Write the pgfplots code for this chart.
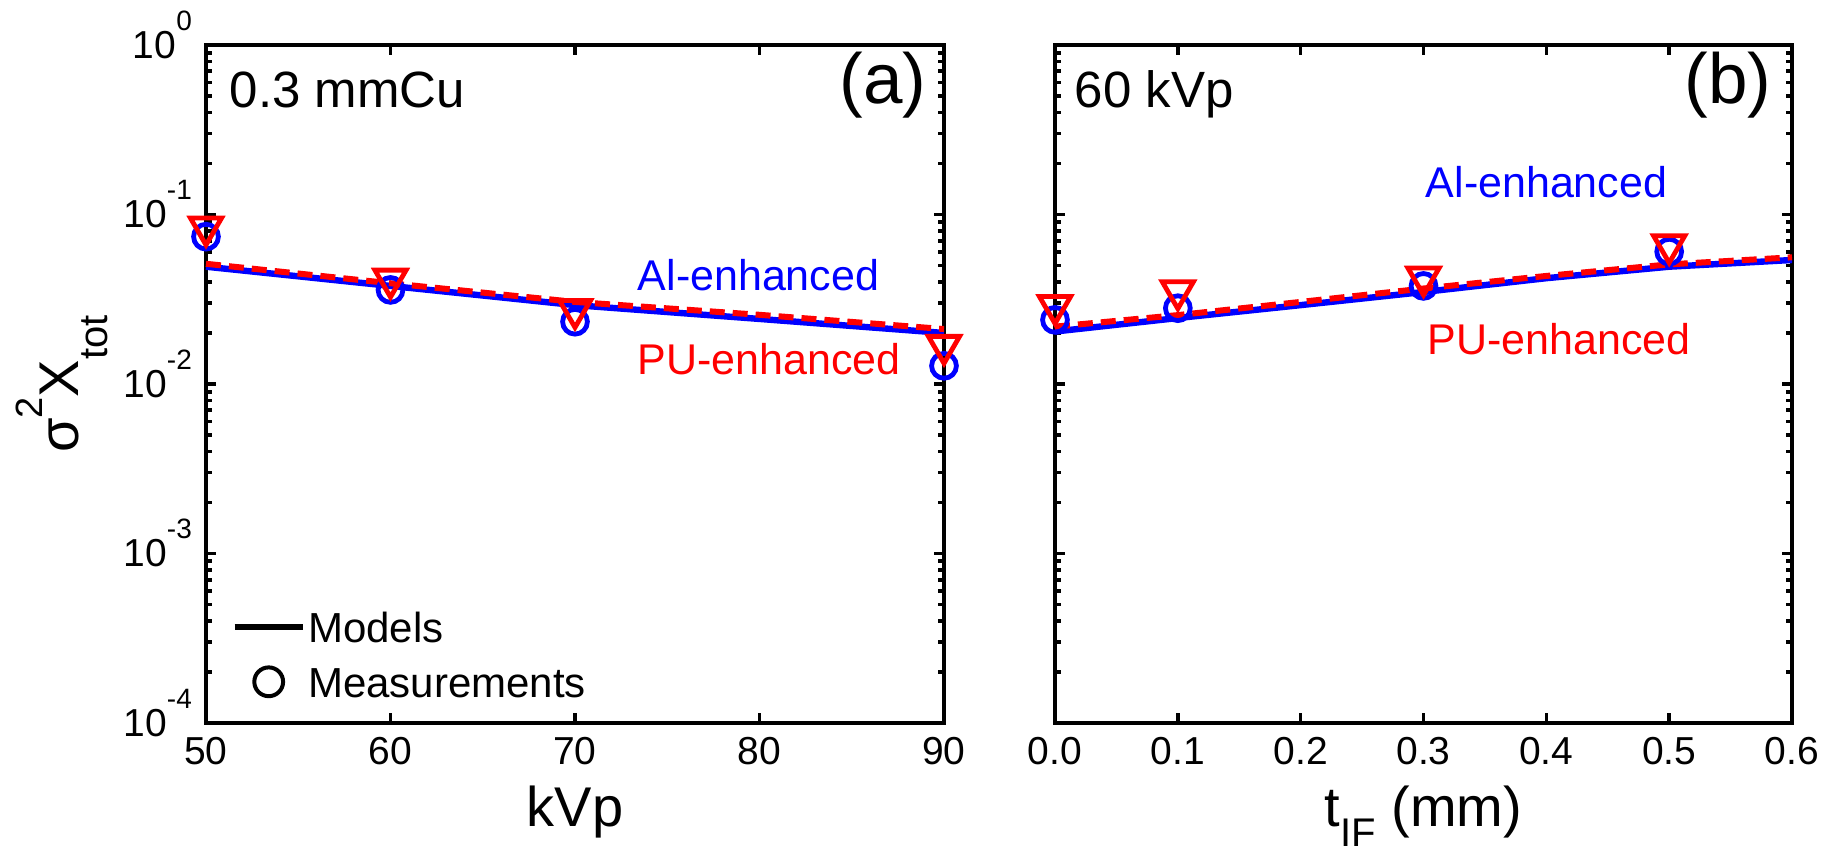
\documentclass[border=0pt]{standalone}
\usepackage{fontspec}
\setmainfont{Liberation Sans}
\usepackage{pgfplots}
\pgfplotsset{compat=1.18}

\definecolor{alblue}{RGB}{0,0,255}
\definecolor{pured}{RGB}{255,0,0}

% 10 with a raised exponent, as MATLAB sets it
\newcommand{\dec}[1]{10\raisebox{7pt}[0pt][0pt]{\fontsize{7}{7}\selectfont #1}}

\tikzset{
  sxNote/.style={anchor=base west, inner sep=0pt, font=\fontsize{12.75}{13}\selectfont},
  sxTag/.style={anchor=base east, inner sep=0pt, font=\fontsize{17.75}{18}\selectfont},
  sxSeries/.style={anchor=base west, inner sep=0pt, font=\fontsize{10.75}{11}\selectfont},
}

\begin{document}
\begin{tikzpicture}
\path[use as bounding box] (0pt,0pt) rectangle (460pt,212.25pt);

% (a) filter 0.3 mmCu, varying kVp
\begin{axis}[
  scale only axis, width=184.5pt, height=169.5pt,
  at={(51.5pt,31.5pt)}, anchor=south west,
  ymode=log, ymin=1e-4, ymax=1,
  ytick={1e-4,1e-3,1e-2,1e-1,1},
  minor ytick={2e-4,3e-4,4e-4,5e-4,6e-4,7e-4,8e-4,9e-4,
               2e-3,3e-3,4e-3,5e-3,6e-3,7e-3,8e-3,9e-3,
               0.02,0.03,0.04,0.05,0.06,0.07,0.08,0.09,
               0.2,0.3,0.4,0.5,0.6,0.7,0.8,0.9},
  yticklabels={\dec{-4},\dec{-3},\dec{-2},\dec{-1},\dec{0}},
  xmin=50, xmax=90, xtick={50,60,70,80,90},
  tick align=inside,
  major tick length=2.5pt, minor tick length=1.5pt,
  tick style={black, line width=0.9pt},
  axis line style={line width=1pt},
  tick label style={font=\fontsize{9.75}{10}\selectfont},
  /pgf/number format/assume math mode=true,
  clip=false,
  xlabel={kVp},
  xlabel style={at={(axis description cs:0.5,-0.1519)}, anchor=base,
                font=\fontsize{14}{14}\selectfont},
  ylabel={σ\raisebox{9pt}{\fontsize{9.5}{9.5}\selectfont 2}X\raisebox{-7.25pt}{\fontsize{10}{10}\selectfont tot}},
  ylabel style={at={(axis description cs:-0.1734,0.5)}, anchor=base,
                font=\fontsize{14}{14}\selectfont},
  legend style={at={(axis description cs:0.0333,0.031)}, anchor=south west,
                draw=none, fill=none, inner sep=0pt, row sep=4.05pt, column sep=0pt,
                font=\fontsize{10.5}{11}\selectfont,
                nodes={inner xsep=0.5pt, inner ysep=1pt, text height=7.7pt, text depth=0pt}},
  legend cell align=left,
]
\addlegendimage{black, line width=1.6pt}
\addlegendentry{Models}
\addlegendimage{only marks, mark=o, mark size=3.6pt, black, line width=1pt}
\addlegendentry{Measurements}

\addplot[alblue, line width=1.6pt, no marks, forget plot] coordinates {
  (50,0.0492) (60,0.0379) (70,0.0292) (80,0.0242) (90,0.0200)};
\addplot[only marks, mark=o, mark size=3.1pt, alblue, line width=1.2pt, forget plot] coordinates {
  (50,0.0740) (60,0.0359) (70,0.0233) (90,0.0128)};
\addplot[pured, line width=1.5pt, dash pattern=on 3.75pt off 2pt, no marks, forget plot] coordinates {
  (50,0.0512) (60,0.0393) (70,0.0305) (80,0.0256) (90,0.0211)};
\addplot[only marks, mark=triangle, mark size=4.5pt, pured, line width=1.2pt,
         mark options={yshift=1.125pt, rotate=180}, forget plot] coordinates {
  (50,0.0794) (60,0.0391) (70,0.0259) (90,0.0159)};

\node[sxNote] at (axis description cs:0.0312,0.9071) {0.3 mmCu};
\node[sxTag] at (axis description cs:0.977,0.913) {(a)};
\node[sxSeries, text=alblue] at (axis description cs:0.584,0.6386) {Al-enhanced};
\node[sxSeries, text=pured] at (axis description cs:0.584,0.5133) {PU-enhanced};
\end{axis}

% (b) 60 kVp, varying filter thickness
\begin{axis}[
  scale only axis, width=184.25pt, height=169.5pt,
  at={(263.75pt,31.5pt)}, anchor=south west,
  ymode=log, ymin=1e-4, ymax=1,
  ytick={1e-4,1e-3,1e-2,1e-1,1},
  minor ytick={2e-4,3e-4,4e-4,5e-4,6e-4,7e-4,8e-4,9e-4,
               2e-3,3e-3,4e-3,5e-3,6e-3,7e-3,8e-3,9e-3,
               0.02,0.03,0.04,0.05,0.06,0.07,0.08,0.09,
               0.2,0.3,0.4,0.5,0.6,0.7,0.8,0.9},
  yticklabels={},
  xmin=0, xmax=0.6, xtick={0,0.1,0.2,0.3,0.4,0.5,0.6},
  xticklabel style={/pgf/number format/.cd, fixed, fixed zerofill, precision=1},
  tick align=inside,
  major tick length=2.5pt, minor tick length=1.5pt,
  tick style={black, line width=0.9pt},
  axis line style={line width=1pt},
  tick label style={font=\fontsize{9.75}{10}\selectfont},
  /pgf/number format/assume math mode=true,
  clip=false,
  xlabel={t\raisebox{-5pt}{\fontsize{10}{10}\selectfont IF} (mm)},
  xlabel style={at={(axis description cs:0.5,-0.1519)}, anchor=base,
                font=\fontsize{14}{14}\selectfont},
]
\addplot[alblue, line width=1.6pt, no marks] coordinates {
  (0,0.0204) (0.1,0.0245) (0.2,0.0292) (0.3,0.0349) (0.4,0.0421) (0.5,0.0492) (0.6,0.0539)};
\addplot[only marks, mark=o, mark size=3.1pt, alblue, line width=1.2pt] coordinates {
  (0,0.0239) (0.1,0.0280) (0.3,0.0379) (0.5,0.0604)};
\addplot[pured, line width=1.5pt, dash pattern=on 3.75pt off 2pt, no marks] coordinates {
  (0,0.0218) (0.1,0.0255) (0.2,0.0305) (0.3,0.0366) (0.4,0.0434) (0.5,0.0508) (0.6,0.0559)};
\addplot[only marks, mark=triangle, mark size=4.5pt, pured, line width=1.2pt,
         mark options={yshift=1.125pt, rotate=180}] coordinates {
  (0,0.0273) (0.1,0.0334) (0.3,0.0402) (0.5,0.0623)};

\node[sxNote] at (axis description cs:0.0258,0.9071) {60 kVp};
\node[sxTag] at (axis description cs:0.9729,0.913) {(b)};
\node[sxSeries, text=alblue] at (axis description cs:0.502,0.7758) {Al-enhanced};
\node[sxSeries, text=pured] at (axis description cs:0.5047,0.5442) {PU-enhanced};
\end{axis}
\end{tikzpicture}
\end{document}
